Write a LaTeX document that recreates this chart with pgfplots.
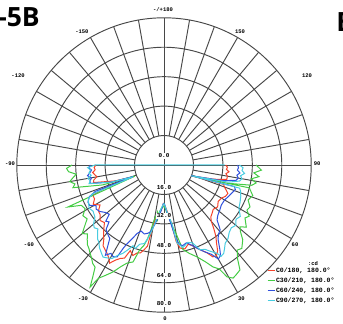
\documentclass[border=0pt]{standalone}
\usepackage{fontspec}
\setmainfont{Liberation Sans}
\newfontfamily\monob{Liberation Mono}
\newfontfamily\osans{Open Sans}
\usepackage{pgfplots}
\usepackage{pgfplotstable}
\pgfplotsset{compat=1.18}
\definecolor{cR}{HTML}{F4442C}
\definecolor{cG}{HTML}{44CC44}
\definecolor{cB}{HTML}{3050DC}
\definecolor{cC}{HTML}{48CCE0}
\definecolor{gridc}{HTML}{484848}
\tikzset{
  tlab/.style={font=\monob\bfseries\fontsize{5.5}{6}\selectfont,inner sep=0.5pt},
  rlab/.style={font=\monob\bfseries\fontsize{6}{6.5}\selectfont,inner sep=0.6pt,fill=white},
  gl/.style={gridc,line width=0.95pt}}

\pgfplotstableread{
a I
-90 37
-88 38
-86 37.5
-84 39
-82 38
-80 37
-78 39
-76 39.5
-72 28
-69 17.5
-68.5 35
-67 42
-64 42
-61 44
-58 41
-55 43.5
-52 44
-49 46
-46 45
-43 48
-41 50
-39 52
-37 55
-35 56
-33 57
-31 58.5
-29 61
-27 58
-25 56
-23 55
-21.5 50
-19 52
-17 50
-15 49.5
-13 47
-11.5 45
-11 39
-10 33
-9 30
-7 28
-5 26
-3 24
-1 21
1 22
3 24
5 27
7 31
8 36
9 42
11 46
14 47
17 45
20 47
23 50
26 53
28 56.5
30 57
32 55
34 51
36 48
38 44
40 40
42 38
45 37
48 36
52 37
56 35.5
60 36
63 37.5
66 38
70 35
72 34
68.6 16.5
74 28
77 35
80 35
82 34
84 35.5
86 34
88 34.5
90 33.5
}\redtab

\pgfplotstableread{
a I
-90 50
-88 53
-86 52
-84 48
-82 50
-80 52
-78 49.5
-76 51
-72 35
-69.2 17
-66.4 57
-64 50
-61 49
-58 52
-55 51
-52 55
-50 58
-48 56
-46 58
-44 60
-42 61
-40 62.5
-38 64
-36 66
-34 67
-32.5 72
-31.2 77.5
-30 71
-28 68
-25.5 64.4
-23 60
-20.7 57
-17.7 55.3
-16 48
-14 45
-12.8 41.8
-11.5 37
-10.7 32
-9 28
-8 26
-7 31
-6 26
-4 24
-2 23
0 22.5
2 24
4 27
6 30
8 34
10 38
12.6 47
16 50
19.7 53
23 57
25.7 61.5
28 64
29.4 69.8
31.4 72
33 71.5
35.9 70.4
38 65
40.7 61
43 62
46.5 59
49 55
50.8 53.3
53 56
56.8 52.6
59 54
61.5 51.3
64 52
67.4 49.5
71 51
75 48
68.6 16.5
74 36
77 49
79 51
81 48
83 52
85 49
87 53
89 51
90 50
}\greentab

\pgfplotstableread{
a I
-90 40
-88 41
-86 39.5
-84 40.5
-82 42
-80 40
-78 41
-76 41.5
-72 30
-69.5 18
-69 40
-67 44
-64 46
-61.5 46
-59 43
-57 44
-54 43
-51 41
-48 40
-46 44
-44 43
-42 47
-40 48
-38 49
-36.5 49.5
-35 53
-33 58.5
-31 56
-29 57
-27 56
-26 50
-25 47
-23 43
-21.5 40
-19 38
-16 39
-13 38
-11.5 37
-9 33
-7.3 30
-5 27
-3 24
-1 21
1 21.5
3 25
5 28
7 33
9 40
11 44
13 45
16 44
19 46
22 49
25 52
28 55
30 59
32 58
33.5 55
36 50
38 48
41 46.5
44 41.5
47 40
51 39
55 38
60 38
64 39
68 40
71 41
73 40
68.6 16
75 33
78 40
80 41
82 40
84 41.5
86 40
88 40.5
90 40
}\bluetab

\pgfplotstableread{
a I
90 33
-90 37.5
-88 41.5
-86 40
-84 41
-82 40
-80 42
-78 41
-76 42
-72 30
-69 18
-68 42
-66 45
-63 46
-60 47
-57 46
-53 47
-50 50
-48 51
-46 50
-44 52
-42 54
-40 55
-38 57
-35 59
-33.5 60
-31 59
-29 58
-27 55
-25 53
-23 50
-21 47
-19 48
-17 45
-14 44
-12 40
-10 35
-8 30
-6 27
-4 24
-2 22
0 21
2 23
4 26
6 29
8 33
8.5 37
9.5 43
13 46
17 44
20 45
23 50
26 51
28 53
31 56
32 58.5
34 58
36 56
38 54
41 53
44 51
47 50
50 51
53 49
56 50
60 47
64 46
68 45
71 44
73 43
68.6 16
75 36
78 42
80 43
82 42
84 44
86 42.5
88 43
90 41
}\cyantab

\begin{document}
\begin{tikzpicture}
\begin{axis}[width=343pt,height=324pt,scale only axis,
  xmin=-89.13,xmax=97.28,ymin=-86.41,ymax=89.67,
  hide axis,clip=false,
  legend style={at={(axis cs:56.0,-55.5)},anchor=north west,draw=none,fill=none,
    font=\monob\bfseries\fontsize{6.5}{7}\selectfont,
    row sep=2.3pt,inner sep=0pt,outer sep=0pt,
    nodes={inner sep=1pt,text height=4.5pt,text depth=1pt}},
  legend cell align=left,
  legend image code/.code={\draw[#1] (0pt,0pt) -- (7pt,0pt);}]
% grid
\draw[gl] (axis cs:0,0) circle[radius=29.44pt];
\draw[gl] (axis cs:0,0) circle[radius=58.88pt];
\draw[gl] (axis cs:0,0) circle[radius=88.32pt];
\draw[gl] (axis cs:0,0) circle[radius=117.76pt];
\draw[gl] (axis cs:0,0) circle[radius=147.2pt];
\pgfplotsinvokeforeach{0,10,...,350}{
  \draw[gl] ([shift={(#1:29.44pt)}]axis cs:0,0) -- ([shift={(#1:147.2pt)}]axis cs:0,0);
}
\draw[gl] (axis cs:-16,0) -- (axis cs:16,0);
\draw[gl] (axis cs:0,-16) -- (axis cs:0,16);

\addplot[cR,line width=1pt,no markers] table[x expr={\thisrow{I}*sin(\thisrow{a})},y expr={-\thisrow{I}*cos(\thisrow{a})}] {\redtab};
\addlegendentry{C0/180, 180.0°}
\addplot[cG,line width=1pt,no markers] table[x expr={\thisrow{I}*sin(\thisrow{a})},y expr={-\thisrow{I}*cos(\thisrow{a})}] {\greentab};
\addlegendentry{C30/210, 180.0°}
\addplot[cB,line width=1pt,no markers] table[x expr={\thisrow{I}*sin(\thisrow{a})},y expr={-\thisrow{I}*cos(\thisrow{a})}] {\bluetab};
\addlegendentry{C60/240, 180.0°}
\addplot[cC,line width=1pt,no markers] table[x expr={\thisrow{I}*sin(\thisrow{a})},y expr={-\thisrow{I}*cos(\thisrow{a})}] {\cyantab};
\addlegendentry{C90/270, 180.0°}

% angle labels
\node[tlab] at (axis cs:-0.54,84.24) {-/+180};
\node[tlab] at (axis cs:41.3,72.3) {150};
\node[tlab] at (axis cs:-44.6,72.3) {-150};
\node[tlab] at (axis cs:77.7,48.4) {120};
\node[tlab] at (axis cs:-79.3,48.4) {-120};
\node[tlab] at (axis cs:83.2,0.5) {90};
\node[tlab] at (axis cs:-83.7,0.5) {-90};
\node[tlab] at (axis cs:71.2,-43.5) {60};
\node[tlab] at (axis cs:-73.4,-43.5) {-60};
\node[tlab] at (axis cs:42.1,-72.8) {30};
\node[tlab] at (axis cs:-44.0,-72.8) {-30};
\node[tlab] at (axis cs:0.54,-83.7) {0};
% ring labels
\node[rlab] at (axis cs:0,4.9) {0.0};
\node[rlab] at (axis cs:0,-12) {16.0};
\node[rlab] at (axis cs:0,-27.7) {32.0};
\node[rlab] at (axis cs:0,-44) {48.0};
\node[rlab] at (axis cs:0,-60.3) {64.0};
\node[rlab] at (axis cs:0,-75.5) {80.0};
% legend header
\node[font=\monob\bfseries\fontsize{5.5}{6}\selectfont,inner sep=0pt] at (axis cs:81,-53.3) {:cd};
% panel letters (cropped at the image edges, as in the reference)
\node[font=\osans\bfseries\fontsize{26.5}{28}\selectfont,anchor=base east,inner sep=0pt] at (axis cs:-67.4,75) {-5B};
\node[font=\osans\bfseries\fontsize{26.5}{28}\selectfont,anchor=base west,inner sep=0pt] at (axis cs:93.5,72.8) {B};
\end{axis}
\pgfresetboundingbox
\path[use as bounding box] (current axis.south west) rectangle (current axis.north east);
\end{tikzpicture}
\end{document}
